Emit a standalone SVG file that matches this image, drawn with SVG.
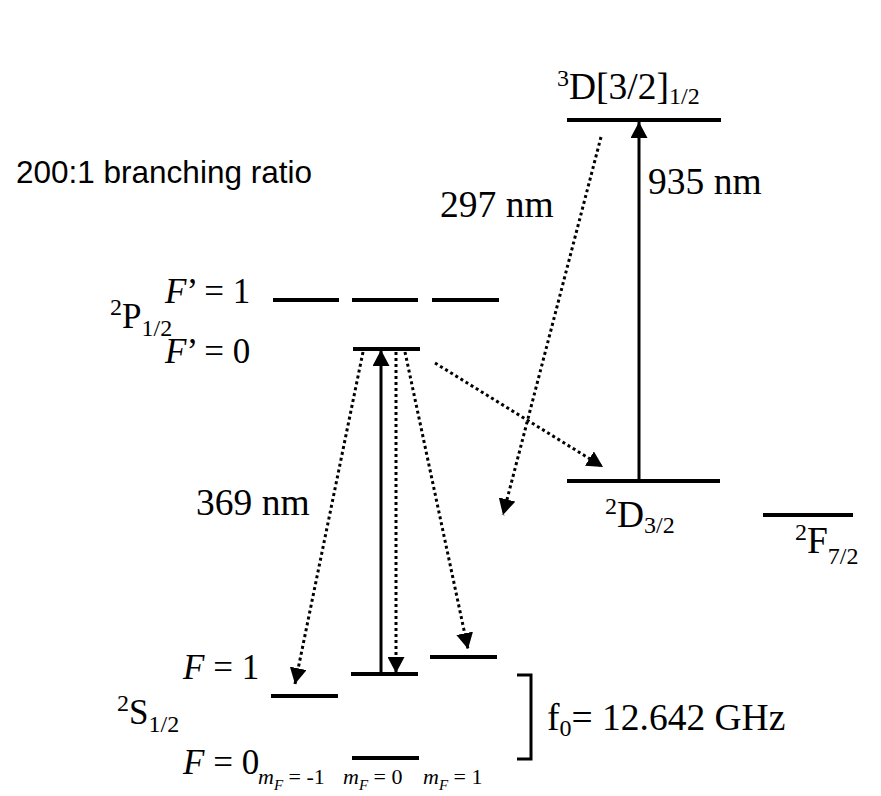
<svg xmlns="http://www.w3.org/2000/svg" width="881" height="796" viewBox="0 0 881 796">
<style>
.lvl{stroke:#000;stroke-width:4;fill:none}
.solid{stroke:#000;stroke-width:3;fill:none;marker-end:url(#ah)}
.dot{stroke:#000;stroke-width:3;stroke-dasharray:3 3;fill:none;marker-end:url(#ah)}
.t{font-family:"Liberation Serif","Times New Roman",serif;font-size:35px;fill:#000}
.b{font-size:37.5px}
.s{font-family:"Liberation Sans",Arial,sans-serif;font-size:31.5px;fill:#000}
.sub{font-size:24px}
.m{font-family:"Liberation Serif","Times New Roman",serif;font-size:22px;fill:#000}
</style>
<defs>
<marker id="ah" markerUnits="userSpaceOnUse" markerWidth="17" markerHeight="17" refX="16" refY="8.5" orient="auto" viewBox="0 0 17 17">
<path d="M0,0 L16,8.5 L0,17 Z" fill="#000"/>
</marker>
</defs>
<rect width="881" height="796" fill="#fff"/>

<g id="level-3D">
<line class="lvl" x1="567" y1="120" x2="721" y2="120"/>
<text class="t b" x="557" y="99"><tspan class="sub" dy="-13">3</tspan><tspan dy="13">D[3/2]</tspan><tspan class="sub" dy="5">1/2</tspan></text>
</g>

<g id="level-P">
<line class="lvl" x1="273" y1="300" x2="339" y2="300"/>
<line class="lvl" x1="352" y1="300" x2="418" y2="300"/>
<line class="lvl" x1="432" y1="300" x2="499" y2="300"/>
<line class="lvl" x1="353" y1="349" x2="420" y2="349"/>
<text class="t" x="165" y="303"><tspan font-style="italic">F</tspan>’ = 1</text>
<text class="t" x="165" y="363"><tspan font-style="italic">F</tspan>’ = 0</text>
<text class="t" x="110" y="328"><tspan class="sub" dy="-13">2</tspan><tspan dy="13">P</tspan><tspan class="sub" dy="8">1/2</tspan></text>
</g>

<g id="level-D">
<line class="lvl" x1="567" y1="481" x2="720" y2="481"/>
<text class="t b" x="605" y="527"><tspan class="sub" dy="-13">2</tspan><tspan dy="13">D</tspan><tspan class="sub" dy="6">3/2</tspan></text>
</g>

<g id="level-F">
<line class="lvl" x1="763" y1="515" x2="853" y2="515"/>
<text class="t b" x="795" y="553"><tspan class="sub" dy="-13">2</tspan><tspan dy="13">F</tspan><tspan class="sub" dy="11">7/2</tspan></text>
</g>

<g id="level-S">
<line class="lvl" x1="271" y1="696" x2="338" y2="696"/>
<line class="lvl" x1="351" y1="674" x2="418" y2="674"/>
<line class="lvl" x1="430" y1="657" x2="497" y2="657"/>
<line class="lvl" x1="352" y1="758" x2="419" y2="758"/>
<text class="t" x="183" y="679"><tspan font-style="italic">F</tspan> = 1</text>
<text class="t" x="183" y="774"><tspan font-style="italic">F</tspan> = 0</text>
<text class="t" x="117" y="724"><tspan class="sub" dy="-13">2</tspan><tspan dy="13">S</tspan><tspan class="sub" dy="8">1/2</tspan></text>
<text class="m" x="258" y="784"><tspan font-style="italic">m</tspan><tspan font-style="italic" font-size="15" dy="6">F</tspan><tspan dy="-6"> = -1</tspan></text>
<text class="m" x="343" y="784"><tspan font-style="italic">m</tspan><tspan font-style="italic" font-size="15" dy="6">F</tspan><tspan dy="-6"> = 0</tspan></text>
<text class="m" x="423" y="784"><tspan font-style="italic">m</tspan><tspan font-style="italic" font-size="15" dy="6">F</tspan><tspan dy="-6"> = 1</tspan></text>
</g>

<g id="hyperfine">
<path d="M517,675 H531 V759 H517" stroke="#000" stroke-width="3" fill="none"/>
<text class="t b" x="547" y="730">f<tspan class="sub" dy="6">0</tspan><tspan dy="-6">= 12.642 GHz</tspan></text>
</g>

<g id="connectors">
<line class="solid" x1="381" y1="672" x2="381" y2="350"/>
<line class="solid" x1="639" y1="480" x2="639" y2="122"/>
<line class="dot" x1="363" y1="352" x2="295" y2="684"/>
<line class="dot" x1="396" y1="352" x2="396" y2="673"/>
<line class="dot" x1="405" y1="352" x2="468" y2="649"/>
<line class="dot" x1="435" y1="363" x2="603" y2="467"/>
<line class="dot" x1="601" y1="137" x2="503" y2="515"/>
</g>

<g id="labels">
<text class="s" x="16" y="183">200:1 branching ratio</text>
<text class="t b" x="440" y="217">297 nm</text>
<text class="t b" x="648" y="194">935 nm</text>
<text class="t b" x="196" y="515">369 nm</text>
</g>
</svg>
